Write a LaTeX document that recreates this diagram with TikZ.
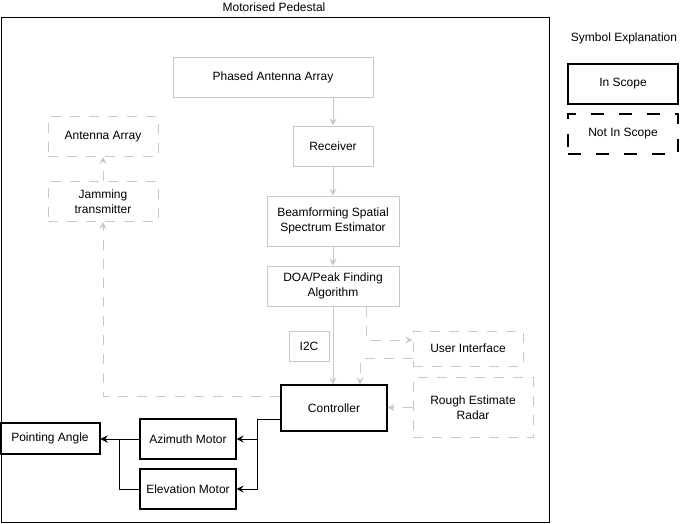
\documentclass[tikz,border=0pt]{standalone}
\usepackage{fontspec}
\setmainfont{Liberation Sans}
\usetikzlibrary{arrows.meta,calc}
\definecolor{lgrey}{RGB}{200,200,200}
\tikzset{
  base/.style={rectangle, inner sep=2pt, align=center, font=\fontsize{12}{15.5}\selectfont, text=black},
  inbox/.style={base, draw=black, line width=1.1pt},
  greybox/.style={base, draw=lgrey, line width=1pt},
  outbox/.style={base, draw=lgrey, line width=1pt, dash pattern=on 10pt off 9pt},
  legdash/.style={base, draw=black, line width=1.1pt, dash pattern=on 13pt off 15pt},
  garrow/.style={draw=lgrey, line width=1pt, -{Stealth[length=7pt,width=7pt,inset=2.5pt]}},
  gdarrow/.style={garrow, dash pattern=on 10pt off 9pt},
  barrow/.style={draw=black, line width=1pt, -{Stealth[length=7pt,width=7pt,inset=2.5pt]}},
  lbl/.style={font=\fontsize{12}{15}\selectfont, inner sep=0pt},
}
\begin{document}
\begin{tikzpicture}[x=1pt,y=-1pt]
\useasboundingbox (0,0) rectangle (687,523);
\fill[white] (0,0) rectangle (687,523);
% outer pedestal frame
\node[draw=black, line width=1pt, minimum width=548pt, minimum height=505pt, inner sep=0pt] (pedestal) at (275,269.5) {};
\node[lbl] (ptitle) at (274,7.5) {Motorised Pedestal};

% legend
\node[lbl] (legtitle) at (624,38) {Symbol Explanation};
\node[inbox, minimum width=110pt, minimum height=40pt] (inscope) at (623,84) {In Scope};
\node[legdash, minimum width=110pt, minimum height=40pt] (notinscope) at (623,134) {Not In Scope};

% main chain
\node[greybox, minimum width=200pt, minimum height=40pt] (phased) at (273,77) {Phased Antenna Array};
\node[greybox, minimum width=80pt, minimum height=40pt] (receiver) at (333,146) {Receiver};
\node[greybox, minimum width=132pt, minimum height=50pt] (beam) at (333,221) {Beamforming Spatial\\Spectrum Estimator};
\node[greybox, minimum width=132pt, minimum height=40pt] (doa) at (333,286) {DOA/Peak Finding\\Algorithm};
\node[greybox, minimum width=40pt, minimum height=30pt] (i2c) at (309,346) {I2C};
\node[outbox, minimum width=110pt, minimum height=35pt] (ui) at (468,348.5) {User Interface};
\node[inbox, minimum width=106pt, minimum height=46pt] (controller) at (334,408) {Controller};
\node[outbox, minimum width=120pt, minimum height=60pt] (radar) at (473,407.5) {Rough Estimate\\Radar};

% jammer side
\node[outbox, minimum width=110pt, minimum height=40pt] (antenna) at (103,136.5) {Antenna Array};
\node[outbox, minimum width=110pt, minimum height=40pt] (jammer) at (103,201.5) {Jamming\\transmitter};

% motors
\node[inbox, minimum width=100pt, minimum height=31pt] (pointing) at (50,438.5) {Pointing Angle};
\node[inbox, minimum width=96pt, minimum height=40pt] (azimuth) at (188,439) {Azimuth Motor};
\node[inbox, minimum width=96pt, minimum height=40pt] (elevation) at (188,489) {Elevation Motor};

% grey solid arrows
\draw[garrow] (receiver.north |- phased.south) -- (receiver.north);
\draw[garrow] (receiver.south) -- (beam.north);
\draw[garrow] (beam.south) -- (doa.north);
\draw[garrow] (doa.south) -- (doa.south |- controller.north);

% grey dashed arrows
\draw[gdarrow] ($(doa.south)+(33,0)$) |- ($(ui.west)+(0,-8.5)$);
\draw[gdarrow] ($(ui.west)+(0,9.5)$) -| ($(controller.north)+(26,0)$);
\draw[gdarrow] (radar.west) -- (controller.east |- radar.west);
\draw[gdarrow] ($(controller.west)+(0,-12)$) -| (jammer.south);
\draw[gdarrow] (jammer.north) -- (antenna.south);

% black arrows
\draw[barrow] ($(controller.west)+(0,11)$) -- ++(-23,0) |- (azimuth.east);
\draw[barrow] ($(controller.west)+(0,11)$) -- ++(-23,0) |- (elevation.east);
\draw[barrow] (azimuth.west) -- (pointing.east |- azimuth.west);
\draw[barrow] (elevation.west) -- ++(-20,0) |- (pointing.east |- azimuth.west);
\end{tikzpicture}
\end{document}
